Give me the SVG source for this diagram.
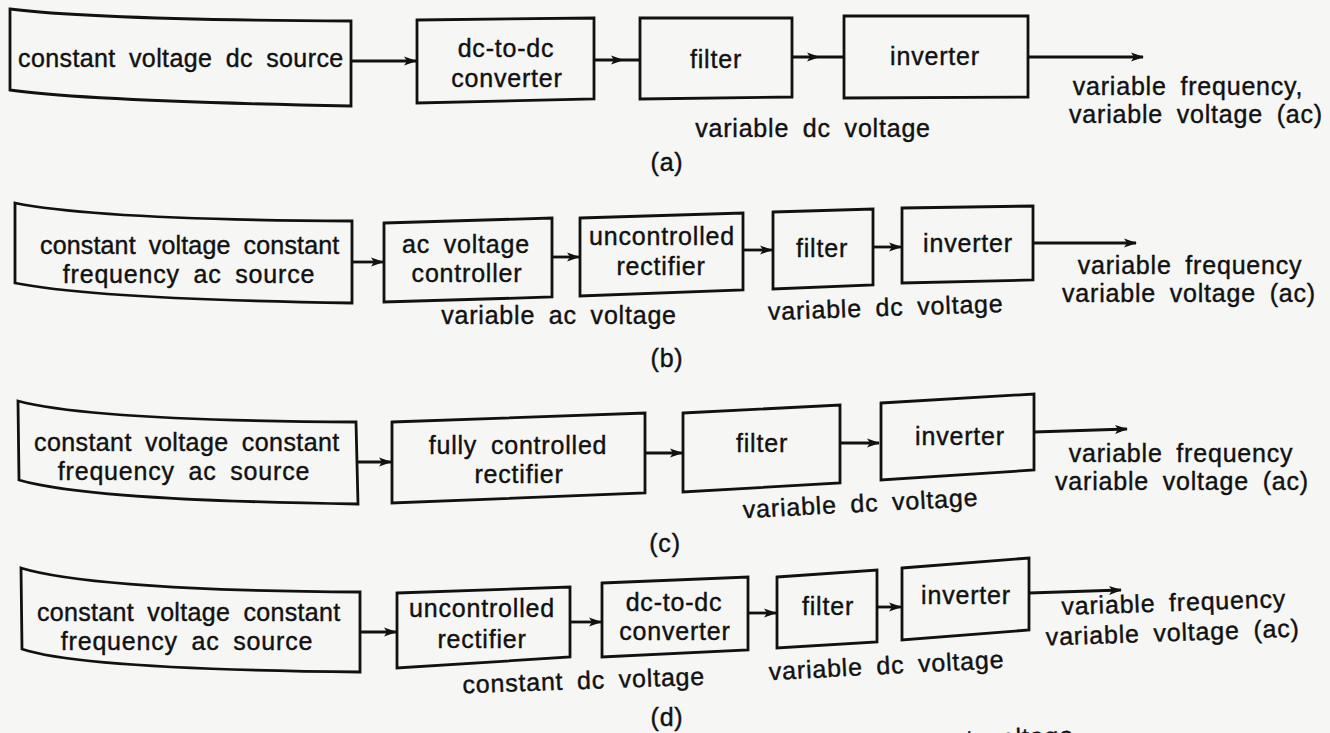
<svg xmlns="http://www.w3.org/2000/svg" width="1330" height="733" viewBox="0 0 1330 733">
<defs>
<marker id="ah" viewBox="0 0 13 10" refX="12" refY="5" markerWidth="13" markerHeight="10" markerUnits="userSpaceOnUse" orient="auto">
<path d="M0,0.5 L13,5 L0,9.5 L3,5 Z" fill="#111"/>
</marker>
<style>
.bx{fill:none;stroke:#111;stroke-width:2.8;stroke-linejoin:miter}
.t{font-family:"Liberation Sans",Arial,sans-serif;font-size:25px;letter-spacing:0.8px;word-spacing:6px;fill:#111;stroke:#111;stroke-width:0.4;text-anchor:middle}
.c line,.c polyline{fill:none;stroke:#111;stroke-width:2.8}
</style>
</defs>
<rect width="1330" height="733" fill="#f6f6f4"/>

<!-- Row (a) -->
<g id="a-source"><path class="bx" d="M10,9 C50,14 150,20 351,21 L351,106 C150,102 50,96 10,90 Z"/><text class="t" x="181" y="67" textLength="326" lengthAdjust="spacing">constant voltage dc source</text></g>
<g id="a-dcdc"><path class="bx" d="M417,20 L594,18 L594,99 L417,103 Z"/><text class="t" x="506" y="57">dc-to-dc</text><text class="t" x="507" y="87">converter</text></g>
<g id="a-filter"><path class="bx" d="M640,18 L792,18 L792,97 L640,99 Z"/><text class="t" x="716" y="68">filter</text></g>
<g id="a-inverter"><path class="bx" d="M844,16 L1028,16 L1028,97 L844,98 Z"/><text class="t" x="935" y="65">inverter</text></g>
<g id="a-labels">
<text class="t" x="1188" y="95">variable frequency,</text>
<text class="t" x="1196" y="123">variable voltage (ac)</text>
<text class="t" x="813" y="137">variable dc voltage</text>
<text class="t" x="667" y="171">(a)</text>
</g>

<!-- Row (b) -->
<g id="b-source"><path class="bx" d="M15,203 C60,212 150,220 352,221 L352,303 C150,300 60,292 15,283 Z"/><text class="t" x="190" y="254" textLength="300" lengthAdjust="spacing">constant voltage constant</text><text class="t" x="189" y="283">frequency ac source</text></g>
<g id="b-acvc"><path class="bx" d="M384,223 L552,218 L552,297 L384,302 Z"/><text class="t" x="466" y="253">ac voltage</text><text class="t" x="467" y="282">controller</text></g>
<g id="b-rect"><path class="bx" d="M580,218 L743,213 L743,290 L580,296 Z"/><text class="t" x="662" y="245">uncontrolled</text><text class="t" x="661" y="275">rectifier</text></g>
<g id="b-filter"><path class="bx" d="M773,212 L873,209 L873,285 L773,289 Z"/><text class="t" x="822" y="257">filter</text></g>
<g id="b-inverter"><path class="bx" d="M902,208 L1033,206 L1033,280 L902,283 Z"/><text class="t" x="968" y="252">inverter</text></g>
<g id="b-labels">
<text class="t" x="1190" y="274">variable frequency</text>
<text class="t" x="1189" y="302">variable voltage (ac)</text>
<text class="t" x="559" y="324">variable ac voltage</text>
<text class="t" x="886" y="316" transform="rotate(-2 886 316)">variable dc voltage</text>
<text class="t" x="667" y="367">(b)</text>
</g>

<!-- Row (c) -->
<g id="c-source"><path class="bx" d="M18,401 C60,412 150,421 356,422 L358,504 C150,501 60,492 19,480 Z"/><text class="t" x="187" y="451" textLength="306" lengthAdjust="spacing">constant voltage constant</text><text class="t" x="184" y="480">frequency ac source</text></g>
<g id="c-rect"><path class="bx" d="M392,422 L645,413 L645,493 L392,503 Z"/><text class="t" x="518" y="454">fully controlled</text><text class="t" x="519" y="483">rectifier</text></g>
<g id="c-filter"><path class="bx" d="M683,413 L840,405 L840,483 L683,492 Z"/><text class="t" x="762" y="452">filter</text></g>
<g id="c-inverter"><path class="bx" d="M881,403 L1034,394 L1034,470 L881,480 Z"/><text class="t" x="960" y="445">inverter</text></g>
<g id="c-labels">
<text class="t" x="1181" y="462">variable frequency</text>
<text class="t" x="1182" y="490">variable voltage (ac)</text>
<text class="t" x="861" y="512" transform="rotate(-3 861 512)">variable dc voltage</text>
<text class="t" x="665" y="552">(c)</text>
</g>

<!-- Row (d) -->
<g id="d-source"><path class="bx" d="M21,568 C60,580 160,591 360,592 L360,672 C160,670 60,662 22,649 Z"/><text class="t" x="189" y="621" textLength="304" lengthAdjust="spacing">constant voltage constant</text><text class="t" x="187" y="650">frequency ac source</text></g>
<g id="d-rect"><path class="bx" d="M397,593 L570,587 L570,657 L397,668 Z"/><text class="t" x="482" y="617">uncontrolled</text><text class="t" x="482" y="648">rectifier</text></g>
<g id="d-dcdc"><path class="bx" d="M602,583 L748,577 L748,650 L602,657 Z"/><text class="t" x="674" y="611">dc-to-dc</text><text class="t" x="675" y="640">converter</text></g>
<g id="d-filter"><path class="bx" d="M777,577 L877,570 L877,642 L777,648 Z"/><text class="t" x="828" y="615">filter</text></g>
<g id="d-inverter"><path class="bx" d="M902,568 L1029,558 L1029,630 L902,640 Z"/><text class="t" x="966" y="604">inverter</text></g>
<g id="d-labels">
<text class="t" x="1174" y="611" transform="rotate(-2 1174 611)">variable frequency</text>
<text class="t" x="1173" y="641" transform="rotate(-2 1173 641)">variable voltage (ac)</text>
<text class="t" x="584" y="689" transform="rotate(-2 584 689)">constant dc voltage</text>
<text class="t" x="887" y="674" transform="rotate(-3 887 674)">variable dc voltage</text>
<text class="t" x="667" y="726">(d)</text>
<text class="t" x="1013" y="746" transform="rotate(-2 1013 746)">nt voltage</text>
</g>

<g id="connectors" class="c">
<line x1="351" y1="61" x2="416" y2="61" marker-end="url(#ah)"/>
<polyline points="594,60 623,60 640,60" marker-mid="url(#ah)"/>
<polyline points="792,57 819,57 844,57" marker-mid="url(#ah)"/>
<line x1="1028" y1="57" x2="1143" y2="57" marker-end="url(#ah)"/>

<line x1="352" y1="262" x2="383" y2="262" marker-end="url(#ah)"/>
<line x1="552" y1="257" x2="579" y2="257" marker-end="url(#ah)"/>
<line x1="743" y1="250" x2="772" y2="250" marker-end="url(#ah)"/>
<line x1="873" y1="247" x2="901" y2="247" marker-end="url(#ah)"/>
<line x1="1033" y1="243" x2="1136" y2="243" marker-end="url(#ah)"/>

<line x1="358" y1="462" x2="391" y2="462" marker-end="url(#ah)"/>
<line x1="645" y1="453" x2="682" y2="453" marker-end="url(#ah)"/>
<line x1="840" y1="443" x2="879" y2="443" marker-end="url(#ah)"/>
<line x1="1034" y1="432" x2="1127" y2="429" marker-end="url(#ah)"/>

<line x1="360" y1="632" x2="396" y2="632" marker-end="url(#ah)"/>
<line x1="570" y1="622" x2="601" y2="622" marker-end="url(#ah)"/>
<line x1="748" y1="613" x2="776" y2="613" marker-end="url(#ah)"/>
<line x1="877" y1="607" x2="901" y2="607" marker-end="url(#ah)"/>
<line x1="1029" y1="593" x2="1121" y2="590" marker-end="url(#ah)"/>
</g>
</svg>
